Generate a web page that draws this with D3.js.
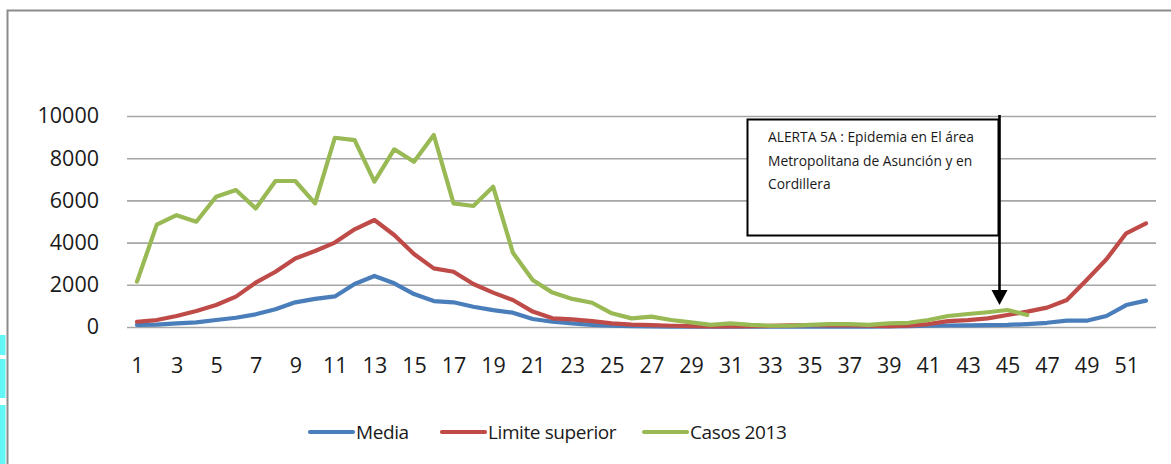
<!DOCTYPE html>
<html>
<head>
<meta charset="utf-8">
<script src="https://cdn.jsdelivr.net/npm/d3@7"></script>
<style>
  html, body { margin: 0; padding: 0; background: #fff; }
  svg { display: block; }
  text { font-family: "Open Sans", "Noto Sans", sans-serif; fill: #1a1a1a; }
</style>
</head>
<body>
<svg id="chart" width="1171" height="464"></svg>
<script>
// Epidemiological weeks 1..52
const weeks = d3.range(1, 53);

// Media (mean of previous seasons)
const media = [100, 110, 170, 220, 330, 440, 600, 840, 1170, 1330, 1450, 2040, 2420, 2070, 1560, 1230,
  1170, 960, 800, 680, 380, 250, 170, 100, 60, 40, 30, 20, 20, 20, 20, 20, 20, 20, 20, 20, 20, 20,
  30, 40, 60, 70, 80, 90, 100, 140, 200, 300, 300, 520, 1040, 1250];

// Limite superior (upper threshold)
const limiteSuperior = [250, 330, 520, 760, 1040, 1440, 2100, 2620, 3250, 3600, 4000, 4630, 5070, 4360,
  3460, 2780, 2620, 2040, 1630, 1280, 730, 410, 360, 280, 170, 110, 90, 60, 40, 30, 30, 40, 50, 80,
  90, 80, 70, 60, 40, 60, 140, 280, 330, 410, 570, 730, 920, 1280, 2230, 3210, 4440, 4910];

// Casos 2013 (reported through week 46)
const casos2013 = [2150, 4850, 5300, 4990, 6175, 6490, 5620, 6920, 6920, 5860, 8970, 8860, 6890, 8420,
  7830, 9100, 5860, 5735, 6650, 3520, 2230, 1630, 1330, 1150, 650, 410, 490, 330, 220, 100, 170, 100,
  60, 60, 100, 140, 140, 100, 170, 200, 330, 520, 615, 700, 805, 570];

const yTicks = [0, 2000, 4000, 6000, 8000, 10000];
const xTickLabels = weeks.filter(w => w % 2 === 1);

const seriesNames = ["Media", "Limite superior", "Casos 2013"];
const seriesColors = ["#4a7ebb", "#be4b48", "#98b954"];

const alertLines = ["ALERTA 5A : Epidemia en El área", "Metropolitana de Asunción y en", "Cordillera"];
const alertWeek = 45;

const svg = d3.select("#chart");

// decorative cyan strip on the left edge
[[335, 20], [359, 39], [405, 59]].forEach(([y, h]) => {
  svg.append("rect").attr("x", 0).attr("y", y).attr("width", 5.5).attr("height", h).attr("fill", "#62f6f6");
});

// outer frame (top and left edges)
svg.append("path")
  .attr("d", "M7.5,464 V10.5 H1171")
  .attr("fill", "none").attr("stroke", "#8c8c8c").attr("stroke-width", 2);

const x = d3.scalePoint().domain(weeks).range([137, 1146]);
const y = d3.scaleLinear().domain([0, 10000]).range([327, 116]);

// horizontal gridlines + y labels
const gy = svg.append("g").attr("transform", "translate(127,0)")
  .call(d3.axisLeft(y).tickValues(yTicks).tickSize(-1029).tickPadding(28).tickFormat(d3.format("d")));
gy.select(".domain").remove();
gy.selectAll(".tick line").attr("stroke", "#a6a6a6").attr("stroke-width", 1.6);
gy.selectAll(".tick text").attr("font-size", 21.5).attr("font-family", "Open Sans").attr("fill", "#1a1a1a");

// x labels (odd weeks)
const gx = svg.append("g").attr("transform", "translate(0,327)")
  .call(d3.axisBottom(x).tickValues(xTickLabels).tickSize(0).tickPadding(31));
gx.select(".domain").remove();
gx.selectAll(".tick text").attr("font-size", 21.5).attr("font-family", "Open Sans").attr("fill", "#1a1a1a");

// series lines
const line = d3.line().x((d, i) => x(weeks[i])).y(d => y(d)).curve(d3.curveLinear);
[media, limiteSuperior, casos2013].forEach((vals, k) => {
  svg.append("path")
    .datum(vals)
    .attr("d", line)
    .attr("fill", "none")
    .attr("stroke", seriesColors[k])
    .attr("stroke-width", 4.2)
    .attr("stroke-linejoin", "round")
    .attr("stroke-linecap", "round");
});

// alert annotation box
const box = svg.append("g");
box.append("rect")
  .attr("x", 747.5).attr("y", 119.5).attr("width", 251).attr("height", 116)
  .attr("fill", "#fff").attr("stroke", "#000").attr("stroke-width", 2);
alertLines.forEach((t, i) => {
  box.append("text")
    .attr("x", 768).attr("y", 142 + i * 23.5)
    .attr("font-size", 13.8).attr("fill", "#111")
    .text(t);
});

// arrow pointing at the alert week
const ax = x(alertWeek) - 8;
svg.append("line")
  .attr("x1", ax).attr("x2", ax).attr("y1", 115).attr("y2", 292)
  .attr("stroke", "#000").attr("stroke-width", 2.6);
svg.append("path")
  .attr("d", `M${ax - 8},290 L${ax + 8},290 L${ax},305 Z`)
  .attr("fill", "#000");

// legend
const legendX = [310, 442, 644];
seriesNames.forEach((name, k) => {
  const g = svg.append("g").attr("transform", `translate(${legendX[k]},432)`);
  g.append("line").attr("x1", 0).attr("x2", 43).attr("y1", 0).attr("y2", 0)
    .attr("stroke", seriesColors[k]).attr("stroke-width", 4.2).attr("stroke-linecap", "round");
  g.append("text").attr("x", 46).attr("y", 0).attr("dy", "0.36em")
    .attr("font-size", 19).attr("letter-spacing", -0.4).attr("fill", "#1a1a1a").text(name);
});
</script>
</body>
</html>
